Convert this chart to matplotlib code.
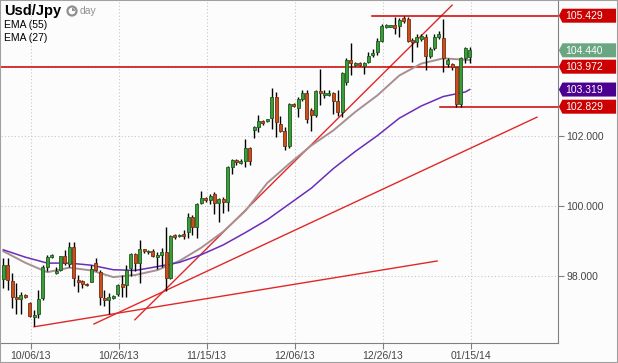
import matplotlib
matplotlib.use('Agg')
import matplotlib.pyplot as plt
from matplotlib.patches import Polygon, Rectangle, Wedge, Circle

# daily USD/JPY candles
opens = [97.90, 98.31, 97.85, 97.40, 97.33, 97.45, 97.21, 96.83, 96.90, 97.37,
         98.26, 98.54, 98.09, 98.16, 98.55, 98.33, 98.81, 97.88, 97.85, 97.76,
         97.83, 98.35, 98.10, 97.37, 97.31, 97.37, 97.48, 97.75, 97.73, 98.21,
         98.62, 98.35, 98.76, 98.67, 98.71, 98.54, 98.59, 98.69, 97.93, 99.16,
         99.13, 99.19, 99.24, 99.67, 99.40, 100.09, 100.21, 100.16, 100.33, 100.09,
         100.19, 100.12, 101.10, 101.31, 101.21, 101.28, 101.64, 102.16, 102.26, 102.42,
         102.42, 102.52, 103.12, 102.33, 102.14, 101.71, 102.91, 102.78, 103.04, 103.21,
         102.73, 102.59, 103.28, 103.16, 103.17, 103.21, 103.00, 102.69, 103.54, 104.16,
         104.02, 104.09, 103.99, 104.10, 104.31, 104.40, 104.71, 105.12, 105.12, 105.16,
         105.14, 105.35, 105.33, 104.73, 104.69, 104.75, 104.81, 104.29, 104.50, 104.81,
         104.78, 104.05, 104.05, 103.95, 102.91, 104.21, 104.24]
highs = [98.50, 98.50, 98.07, 97.78, 97.54, 97.48, 97.26, 97.02, 97.59, 98.31,
         98.59, 98.61, 98.26, 98.56, 98.74, 98.97, 98.97, 98.02, 97.88, 97.78,
         98.31, 98.50, 98.16, 97.59, 97.50, 97.45, 97.75, 98.02, 98.31, 98.66,
         98.66, 99.02, 98.76, 98.73, 98.76, 98.69, 98.78, 99.38, 99.16, 99.18,
         99.19, 99.31, 99.80, 99.73, 100.07, 100.42, 100.24, 100.33, 100.40, 100.23,
         100.26, 101.13, 101.34, 101.34, 101.33, 101.91, 101.69, 102.29, 102.59, 102.45,
         102.48, 103.35, 103.24, 102.56, 102.26, 102.94, 102.94, 103.10, 103.31, 103.31,
         102.78, 103.31, 103.90, 103.31, 103.31, 103.26, 103.31, 103.83, 104.21, 104.64,
         104.10, 104.12, 104.12, 104.40, 104.47, 104.80, 105.18, 105.18, 105.16, 105.40,
         105.35, 105.43, 105.40, 104.78, 104.92, 104.92, 104.90, 104.54, 104.92, 105.00,
         105.33, 104.21, 104.07, 103.97, 104.26, 104.54, 104.54]
lows = [97.64, 97.59, 97.07, 96.90, 96.90, 97.37, 96.83, 96.56, 96.80, 97.31,
        98.12, 98.50, 98.04, 98.12, 98.31, 98.26, 97.71, 97.54, 97.64, 97.71,
        97.81, 98.12, 97.16, 97.14, 96.91, 97.33, 97.43, 97.40, 97.40, 97.99,
        98.12, 97.78, 98.64, 98.62, 98.52, 98.18, 98.24, 97.57, 97.90, 99.04,
        99.10, 99.04, 99.07, 99.16, 99.07, 100.05, 100.12, 100.05, 99.75, 99.54,
        99.78, 99.85, 100.91, 101.16, 101.18, 101.12, 101.16, 101.93, 102.10, 102.31,
        102.40, 102.19, 101.97, 102.12, 101.59, 101.64, 102.81, 102.54, 103.00, 102.35,
        102.14, 102.54, 102.88, 103.07, 103.13, 102.62, 102.56, 102.54, 103.45, 103.73,
        104.00, 103.99, 103.76, 104.07, 104.26, 104.31, 104.67, 105.09, 105.10, 104.92,
        104.83, 105.21, 104.69, 104.12, 104.54, 104.70, 103.88, 104.21, 104.45, 104.75,
        103.83, 103.97, 103.88, 102.83, 102.83, 104.07, 104.07]
closes = [98.31, 97.88, 97.40, 97.33, 97.45, 97.40, 96.86, 96.88, 97.34, 98.26,
          98.53, 98.59, 98.14, 98.55, 98.35, 98.81, 97.93, 97.83, 97.75, 97.72,
          98.19, 98.16, 97.38, 97.31, 97.40, 97.43, 97.73, 97.69, 98.16, 98.62,
          98.35, 98.76, 98.72, 98.72, 98.56, 98.59, 98.69, 97.93, 99.13, 99.10,
          99.16, 99.13, 99.67, 99.40, 100.05, 100.21, 100.16, 100.29, 100.09, 100.19,
          100.12, 101.12, 101.31, 101.26, 101.28, 101.64, 101.28, 102.24, 102.42, 102.35,
          102.47, 103.12, 102.40, 102.14, 101.71, 102.91, 102.85, 103.04, 103.21, 102.47,
          102.59, 103.28, 103.21, 103.21, 103.21, 103.00, 102.69, 103.80, 104.16, 104.09,
          104.07, 104.02, 104.09, 104.29, 104.37, 104.71, 105.14, 105.16, 105.16, 105.09,
          105.31, 105.29, 104.71, 104.67, 104.83, 104.85, 104.29, 104.48, 104.81, 104.90,
          104.21, 104.16, 103.95, 102.91, 104.21, 104.50, 104.44]

# moving averages sampled every 5 bars
ema_bars = [0, 5, 10, 15, 20, 25, 30, 35, 40, 45, 50, 55, 60, 65, 70, 75, 80, 85, 90, 95, 100, 105, 106]
ema55 = [98.74, 98.53, 98.36, 98.36, 98.30, 98.17, 98.15, 98.26, 98.38, 98.60, 98.88, 99.23,
         99.60, 100.05, 100.50, 101.06, 101.55, 102.00, 102.50, 102.85, 103.12, 103.25, 103.32]
ema27 = [98.70, 98.37, 98.10, 98.23, 98.15, 97.96, 98.02, 98.16, 98.42, 98.80, 99.26, 99.85,
         100.65, 101.20, 101.72, 102.15, 102.68, 103.15, 103.72, 104.06, 104.21, 104.17, 104.16]

date_labels = ['10/06/13', '10/26/13', '11/15/13', '12/06/13', '12/26/13', '01/15/14']
date_ticks = [6.2, 26.2, 46.2, 66.2, 86.3, 106.3]
price_ticks = [98, 100, 102]
grid_prices = [98, 100, 102, 104]

# trend lines: (bar, price) start and end
trend_lines = [((7.0, 96.54), (98.6, 98.42)),
               ((20.6, 96.62), (121.3, 102.53)),
               ((29.9, 96.74), (102.0, 105.73))]
# horizontal levels: price, first bar
levels = [(105.429, 83.8), (103.972, -1), (102.829, 99.3)]
tags = [(105.429, '#cc0000'), (104.440, '#6aa682'), (103.972, '#cc0000'),
        (103.319, '#4b0090'), (102.829, '#cc0000')]

bg = '#fcfcfc'
fig = plt.figure(figsize=(6.18, 3.63), dpi=100, facecolor=bg)
ax = fig.add_axes([1 / 618, 1 - 343 / 363, 557 / 618, 342 / 363])
ax.set_facecolor(bg)
ax.set_xlim(-0.52, 126.07)
ax.set_ylim(96.077, 105.849)

for t in date_ticks:
    ax.axvline(t, color='#c8c8c8', lw=0.8, ls=(0, (1, 2)), zorder=0)
for p in grid_prices:
    ax.axhline(p, color='#c8c8c8', lw=0.8, ls=(0, (1, 2)), zorder=0)

# trend lines and levels
for (x0, y0), (x1, y1) in trend_lines:
    ax.plot([x0, x1], [y0, y1], color='#e02828', lw=1.0, zorder=2)
for p, x0 in levels:
    ax.plot([x0, 127], [p, p], color='#cc0000', lw=1.1, zorder=2)

# emas
ax.plot(ema_bars, ema27, color='#a89090', lw=1.4, zorder=3)
ax.plot(ema_bars, ema55, color='#6a2db8', lw=1.1, zorder=3)

# candles
for i in range(len(opens)):
    o, h, l, c = opens[i], highs[i], lows[i], closes[i]
    up = c >= o
    ax.vlines(i, l, h, color='black', lw=1.0, zorder=4)
    fill = '#3c9c3c' if up else '#c8501e'
    edge = '#1d5e1d' if up else '#7a2e10'
    ax.bar(i, max(abs(c - o), 0.04), bottom=min(o, c), width=0.72,
           color=fill, edgecolor=edge, lw=0.6, zorder=5)

for s in ['left', 'top']:
    ax.spines[s].set_visible(False)
for s in ['right', 'bottom']:
    ax.spines[s].set_color('#808080')
ax.yaxis.tick_right()
ax.set_yticks(price_ticks)
ax.set_yticklabels(['%.3f' % p for p in price_ticks])
ax.set_xticks(date_ticks)
ax.set_xticklabels(date_labels)
ax.tick_params(axis='both', colors='#808080', length=4, width=0.8, labelsize=7.5,
               labelcolor='#444444', pad=2)
for lab in ax.get_xticklabels() + ax.get_yticklabels():
    lab.set_family('Liberation Sans')

# price tags on the right
xr = ax.get_xlim()[1]
for p, col in tags:
    h = 0.2
    poly = Polygon([(xr + 0.2, p), (xr + 1.0, p + h), (xr + 13.2, p + h),
                    (xr + 13.2, p - h), (xr + 1.0, p - h)], closed=True,
                   facecolor=col, edgecolor='none', clip_on=False, zorder=10)
    ax.add_patch(poly)
    ax.text(xr + 1.6, p - 0.01, '%.3f' % p, color='white', fontsize=7.5,
            family='Liberation Sans', va='center', ha='left', clip_on=False, zorder=11)

# header texts
fig.text(4 / 618, 1 - 11 / 363, 'Usd/Jpy', fontsize=10.5, fontweight='bold',
         family='Liberation Sans', va='center', ha='left')
fig.text(80 / 618, 1 - 11 / 363, 'day', fontsize=7.5, color='#909090',
         family='Liberation Sans', va='center', ha='left')
clock = Circle((72 / 100, (363 - 11) / 100), 0.045, transform=fig.dpi_scale_trans,
               facecolor='white', edgecolor='#909090', lw=1.6)
fig.add_artist(clock)
hand = Wedge((72 / 100, (363 - 11) / 100), 0.03, 0, 90, transform=fig.dpi_scale_trans,
             facecolor='#909090', edgecolor='none')
fig.add_artist(hand)
fig.text(4 / 618, 1 - 25 / 363, 'EMA (55)', fontsize=7.5,
         family='Liberation Sans', va='center', ha='left')
fig.text(4 / 618, 1 - 38 / 363, 'EMA (27)', fontsize=7.5,
         family='Liberation Sans', va='center', ha='left')

fig.add_artist(Rectangle((0, 0), 1, 1, transform=fig.transFigure, fill=False,
                         edgecolor='#a0a0a0', lw=1.5))

fig.savefig('out.png', dpi=100, facecolor=bg)
